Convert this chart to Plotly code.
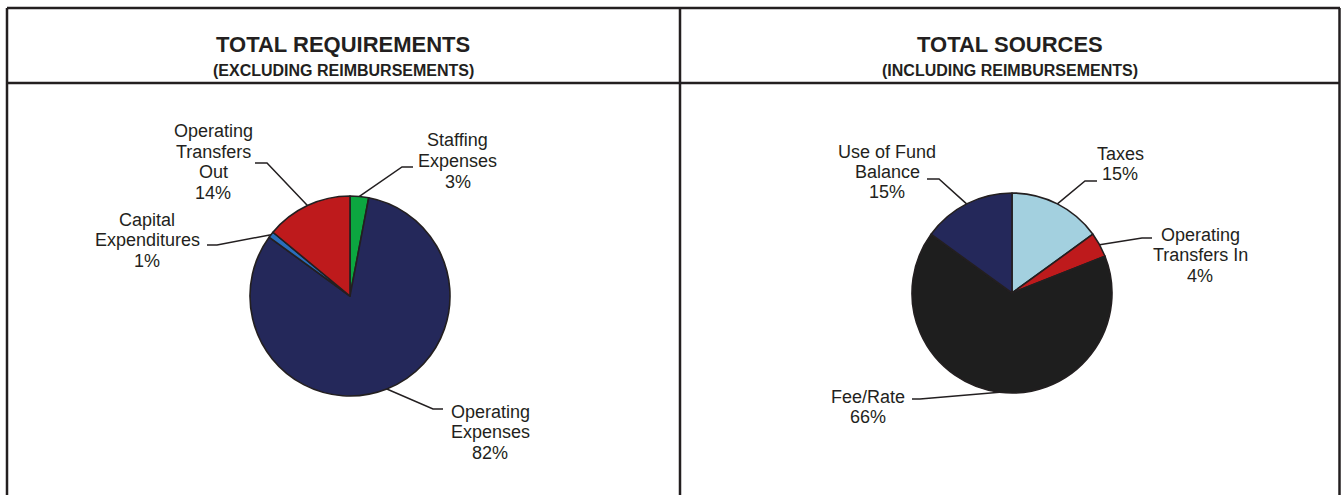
"""Total requirements / total sources pie pair."""

import math

import plotly.graph_objects as go

W, H = 1341, 495

req_labels = ["Staffing<br>Expenses", "Operating<br>Expenses", "Capital<br>Expenditures", "Operating<br>Transfers<br>Out"]
req_values = [3, 82, 1, 14]
req_colors = ["#0CA640", "#24285A", "#2A6EBB", "#BE1A1C"]

src_labels = ["Taxes", "Operating<br>Transfers In", "Fee/Rate", "Use of Fund<br>Balance"]
src_values = [15, 4, 66, 15]
src_colors = ["#A3D0DF", "#BE1A1C", "#1E1E1E", "#24285A"]

# label placement in pixels: (label centre x, y), (elbow x, y), (segment end x, y)
req_label_pos = [((458, 161), (402, 167), (413, 167)),
                 ((490, 432), (433, 409), (443, 409)),
                 ((147, 240), (217, 245), (207, 245)),
                 ((213, 162), (267, 163), (255, 163))]
src_label_pos = [((1120, 164), (1085, 181), (1097, 181)),
                 ((1200, 255), (1142, 238), (1152, 238)),
                 ((868, 407), (920, 399), (912, 399)),
                 ((887, 172), (939, 179), (927, 179))]

FONT = "Liberation Sans, Arial, sans-serif"
INK = "#231F20"
R = 100
LINE_GAP = 20.5


def px(x):
    return x / W


def py(y):
    return 1 - y / H


def add_text_block(fig, cx, cy, lines, size, bold=False):
    n = len(lines)
    for i, line in enumerate(lines):
        y = cy + (i - (n - 1) / 2) * LINE_GAP
        fig.add_annotation(
            x=px(cx), y=py(y), xref="paper", yref="paper",
            text=f"<b>{line}</b>" if bold else line, showarrow=False,
            xanchor="center", yanchor="middle",
            font=dict(family=FONT, size=size, color=INK),
        )


def add_pie(fig, labels, values, colors, cx, cy, placement):
    fig.add_trace(
        go.Pie(
            labels=[l.replace("<br>", " ") for l in labels],
            values=values,
            sort=False,
            direction="clockwise",
            rotation=0,
            textinfo="none",
            hoverinfo="label+percent",
            marker=dict(colors=colors, line=dict(color=INK, width=1.6)),
            domain=dict(x=[px(cx - R), px(cx + R)], y=[py(cy + R), py(cy - R)]),
            showlegend=False,
        )
    )
    total = sum(values)
    cum = 0
    for lab, val, (centre, elbow, end) in zip(labels, values, placement):
        mid = (cum + val / 2) / total * 2 * math.pi
        cum += val
        sx = cx + R * math.sin(mid)
        sy = cy - R * math.cos(mid)
        fig.add_shape(
            type="path",
            xref="paper", yref="paper",
            path=f"M {px(sx)},{py(sy)} L {px(elbow[0])},{py(elbow[1])} L {px(end[0])},{py(end[1])}",
            line=dict(color=INK, width=1.5),
        )
        pct = round(val / total * 100)
        add_text_block(fig, centre[0], centre[1], lab.split("<br>") + [f"{pct}%"], 18)


fig = go.Figure()
add_pie(fig, req_labels, req_values, req_colors, 350, 296, req_label_pos)
add_pie(fig, src_labels, src_values, src_colors, 1012, 293, src_label_pos)

# panel frame
frame = [(7, 8, 1340, 8), (7, 83, 1340, 83), (7, 8, 7, 495), (680, 8, 680, 495), (1339.5, 8, 1339.5, 495)]
for x0, y0, x1, y1 in frame:
    fig.add_shape(type="line", xref="paper", yref="paper",
                  x0=px(x0), y0=py(y0), x1=px(x1), y1=py(y1),
                  line=dict(color=INK, width=2.5))

titles = [(343, "TOTAL REQUIREMENTS", "(EXCLUDING REIMBURSEMENTS)"),
          (1010, "TOTAL SOURCES", "(INCLUDING REIMBURSEMENTS)")]
for x, t1, t2 in titles:
    fig.add_annotation(x=px(x), y=py(44), xref="paper", yref="paper", text=f"<b>{t1}</b>",
                       showarrow=False, xanchor="center", yanchor="middle",
                       font=dict(family=FONT, size=22, color=INK))
    fig.add_annotation(x=px(x), y=py(70), xref="paper", yref="paper", text=f"<b>{t2}</b>",
                       showarrow=False, xanchor="center", yanchor="middle",
                       font=dict(family=FONT, size=16, color=INK))

fig.update_layout(
    width=W, height=H,
    margin=dict(l=0, r=0, t=0, b=0),
    paper_bgcolor="white",
    plot_bgcolor="white",
)
fig.write_html("out.html", config={"displayModeBar": False},
               post_script="document.body.style.margin='0';")
